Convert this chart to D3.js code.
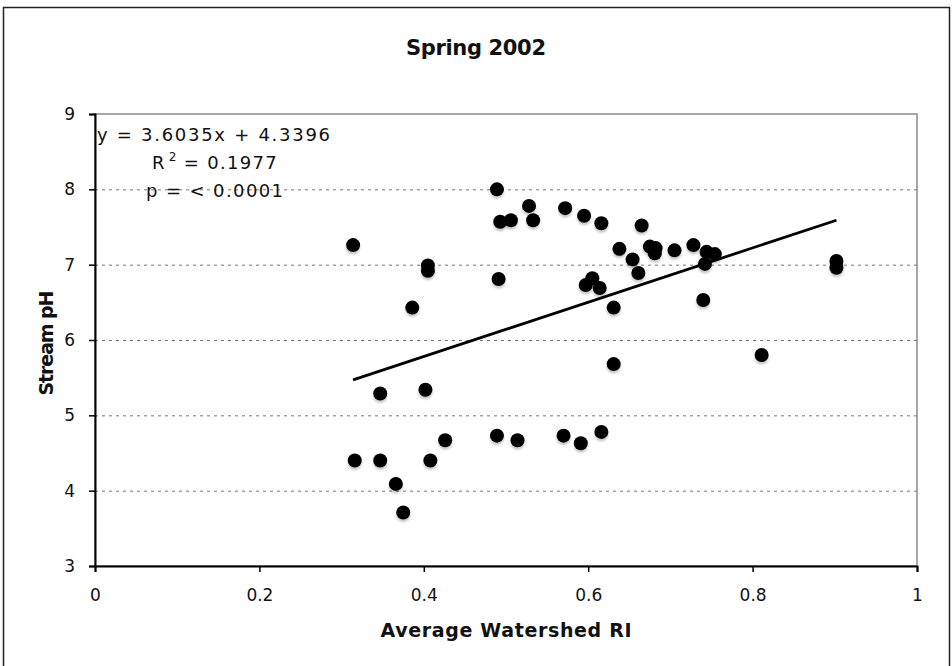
<!DOCTYPE html>
<html>
<head>
<meta charset="utf-8">
<script src="https://cdn.jsdelivr.net/npm/d3@7"></script>
<style>
  html, body { margin: 0; padding: 0; background: #fff; }
  svg { display: block; }
  text { font-family: "DejaVu Sans", Verdana, sans-serif; fill: #111; }
  .bold { font-weight: bold; }
</style>
</head>
<body>
<svg id="chart" width="952" height="666"></svg>
<script>
// Average watershed RI (x) against stream pH (y), spring 2002 sampling
const ri = [
  0.314, 0.405, 0.405, 0.386, 0.347, 0.402, 0.316, 0.347, 0.408, 0.366, 0.375, 0.426,
  0.489, 0.493, 0.506, 0.528, 0.533, 0.491, 0.572, 0.595, 0.616, 0.638,
  0.605, 0.597, 0.614, 0.631, 0.631, 0.489, 0.514, 0.570, 0.591, 0.616,
  0.665, 0.675, 0.682, 0.681, 0.705, 0.728, 0.744, 0.754, 0.742, 0.654, 0.661, 0.740,
  0.902, 0.902, 0.811
];
const ph = [
  7.26, 6.99, 6.92, 6.43, 5.29, 5.34, 4.40, 4.40, 4.40, 4.09, 3.71, 4.67,
  8.00, 7.57, 7.59, 7.78, 7.59, 6.81, 7.75, 7.65, 7.55, 7.21,
  6.82, 6.73, 6.69, 6.43, 5.68, 4.73, 4.67, 4.73, 4.63, 4.78,
  7.52, 7.24, 7.22, 7.15, 7.19, 7.26, 7.17, 7.14, 7.01, 7.07, 6.89, 6.53,
  7.05, 6.96, 5.80
];

// Fitted linear trend
const slope = 3.6035;
const intercept = 4.3396;
const eqText = "y = 3.6035x + 4.3396";
const r2Value = "0.1977";
const pText = "p = < 0.0001";

const xTicks = [0, 0.2, 0.4, 0.6, 0.8, 1];
const yTicks = [3, 4, 5, 6, 7, 8, 9];
const gridValues = [4, 5, 6, 7, 8];

const chartTitle = "Spring 2002";
const xTitle = "Average Watershed RI";
const yTitle = "Stream pH";

const svg = d3.select("#chart");
const W = 952, H = 666;
const m = { left: 95, top: 114, right: 35, bottom: 100 };
const pw = W - m.left - m.right;   // 822
const ph_ = H - m.top - m.bottom;  // 452

// Outer chart frame
svg.append("rect")
  .attr("x", 3.5).attr("y", 7.5)
  .attr("width", 946).attr("height", 680)
  .attr("fill", "none").attr("stroke", "#222").attr("stroke-width", 1.5);

const x = d3.scaleLinear().domain([0, 1]).range([m.left, m.left + pw]);
const y = d3.scaleLinear().domain([3, 9]).range([m.top + ph_, m.top]);

// Plot-area border (grey top/right)
svg.append("rect")
  .attr("x", x(0)).attr("y", y(9))
  .attr("width", pw).attr("height", ph_)
  .attr("fill", "none").attr("stroke", "#8a8a8a").attr("stroke-width", 1.5);

// Dashed horizontal gridlines
svg.append("g").selectAll("line").data(gridValues).join("line")
  .attr("x1", x(0)).attr("x2", x(1))
  .attr("y1", d => y(d) + 0.5).attr("y2", d => y(d) + 0.5)
  .attr("stroke", "#777").attr("stroke-width", 1)
  .attr("stroke-dasharray", "3,4");

// Axes
const xAxis = svg.append("g")
  .attr("transform", `translate(0,${y(3)})`)
  .call(d3.axisBottom(x).tickValues(xTicks).tickSize(6).tickPadding(17)
    .tickFormat(d3.format("~g")));
const yAxis = svg.append("g")
  .attr("transform", `translate(${x(0)},0)`)
  .call(d3.axisLeft(y).tickValues(yTicks).tickSize(6).tickPadding(14)
    .tickFormat(d3.format("d")));

[xAxis, yAxis].forEach(a => {
  a.attr("font-family", null).attr("font-size", null);
  a.select(".domain").attr("stroke", "#000").attr("stroke-width", 2);
  a.selectAll(".tick line").attr("stroke", "#000").attr("stroke-width", 1.5);
  a.selectAll(".tick text").style("font-size", "17px").attr("fill", "#111");
});

// Trend line across the observed RI range
const xMin = d3.min(ri), xMax = d3.max(ri);
svg.append("line")
  .attr("x1", x(xMin)).attr("y1", y(slope * xMin + intercept))
  .attr("x2", x(xMax)).attr("y2", y(slope * xMax + intercept))
  .attr("stroke", "#000").attr("stroke-width", 2.8);

// Data points with a soft drop shadow
const defs = svg.append("defs");
const f = defs.append("filter").attr("id", "soft").attr("x", "-50%").attr("y", "-50%")
  .attr("width", "200%").attr("height", "200%");
f.append("feGaussianBlur").attr("stdDeviation", 1.2);

const pts = ri.map((v, i) => [v, ph[i]]);
svg.append("g").selectAll("circle").data(pts).join("circle")
  .attr("cx", d => x(d[0])).attr("cy", d => y(d[1]) + 2.5)
  .attr("r", 7).attr("fill", "#000").attr("opacity", 0.22)
  .attr("filter", "url(#soft)");
svg.append("g").selectAll("circle").data(pts).join("circle")
  .attr("cx", d => x(d[0])).attr("cy", d => y(d[1]))
  .attr("r", 7).attr("fill", "#000");

// Regression statistics
const st = svg.append("g").style("font-size", "18px");
st.append("text").attr("x", 97).attr("y", 141)
  .attr("textLength", 233).attr("lengthAdjust", "spacing").text(eqText);
const r2 = st.append("text").attr("x", 152).attr("y", 169).style("letter-spacing", "1.3px");
r2.append("tspan").text("R");
r2.append("tspan").style("font-size", "12px").attr("dx", 3).attr("dy", -8).text("2");
r2.append("tspan").attr("dx", 6).attr("dy", 8).text("= " + r2Value);
st.append("text").attr("x", 146).attr("y", 197)
  .attr("textLength", 137).attr("lengthAdjust", "spacing").text(pText);

// Titles
svg.append("text").attr("class", "bold")
  .attr("x", 476).attr("y", 55).attr("text-anchor", "middle")
  .attr("textLength", 140).attr("lengthAdjust", "spacing")
  .style("font-size", "21px").text(chartTitle);
svg.append("text").attr("class", "bold")
  .attr("x", 506).attr("y", 637).attr("text-anchor", "middle")
  .attr("textLength", 251).attr("lengthAdjust", "spacing")
  .style("font-size", "19px").text(xTitle);
svg.append("text").attr("class", "bold")
  .attr("transform", `translate(53,${343}) rotate(-90)`)
  .attr("text-anchor", "middle")
  .attr("textLength", 105).attr("lengthAdjust", "spacing")
  .style("font-size", "19px").text(yTitle);
</script>
</body>
</html>
